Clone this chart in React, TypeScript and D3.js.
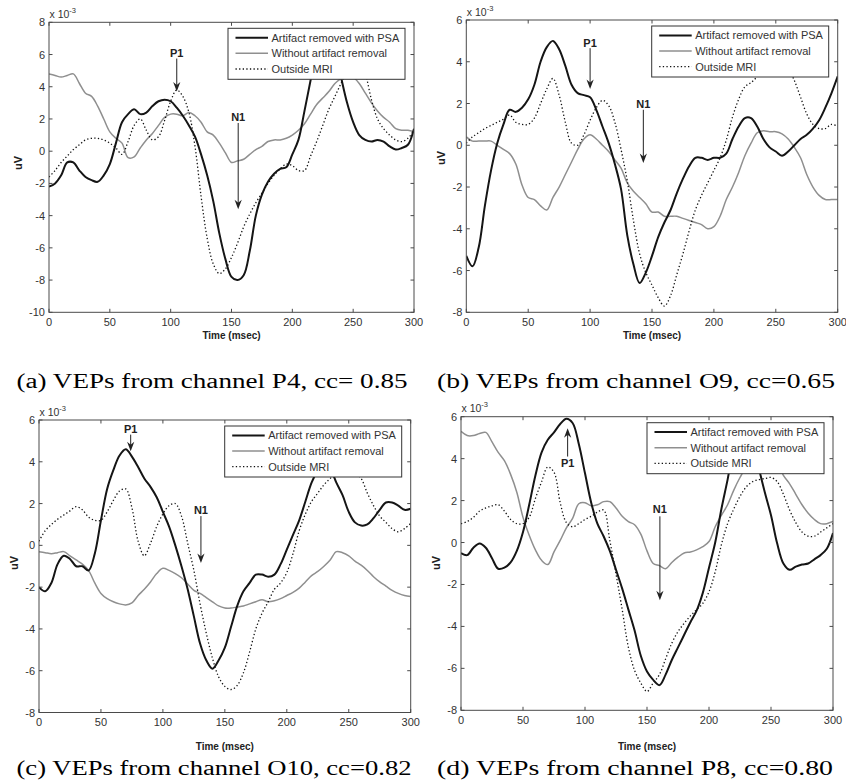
import React from "react";
import * as d3 from "d3";

// sample times (msec)
const timeMs = [
  0, 5, 10, 15, 20, 25, 30, 35, 40, 45, 50, 55, 60, 65, 70, 75, 80, 85, 90, 95,
  100, 105, 110, 115, 120, 125, 130, 135, 140, 145, 150, 155, 160, 165, 170, 175,
  180, 185, 190, 195, 200, 205, 210, 215, 220, 225, 230, 235, 240, 245, 250, 255,
  260, 265, 270, 275, 280, 285, 290, 295, 300,
];

// values in units of 1e-3 uV
const psaP4 = [
  -2.2, -2.0, -1.5, -0.7, -0.7, -1.2, -1.6, -1.8, -1.9, -1.5,
  -0.8, 0.5, 1.8, 2.3, 2.6, 2.3, 2.4, 2.8, 3.1, 3.2,
  3.1, 2.7, 2.2, 1.6, 0.9, -0.2, -1.5, -3.1, -5.1, -6.7,
  -7.8, -8.0, -7.7, -6.2, -4.0, -2.7, -1.9, -1.4, -1.1, -1.0,
  -0.2, 0.7, 2.5, 4.4, 6.2, 7.1, 7.3, 6.3, 4.6, 3.0,
  1.8, 1.0, 0.7, 0.6, 0.7, 0.6, 0.3, 0.1, 0.2, 0.4,
  1.4,
];
const rawP4 = [
  4.8, 4.7, 4.6, 4.7, 4.8, 4.2, 3.6, 3.4, 2.8, 2.0,
  1.2, 0.8, 0.5, -0.4, -0.35, 0.2, 0.7, 1.1, 1.6, 2.1,
  2.3, 2.3, 2.2, 2.4, 2.2, 1.8, 1.2, 1.0, 0.5, -0.1,
  -0.7, -0.6, -0.5, -0.2, 0.1, 0.3, 0.6, 0.7, 0.7, 0.8,
  1.0, 1.3, 1.7, 2.3, 2.9, 3.3, 3.7, 4.2, 4.5, 4.7,
  4.6, 4.2, 3.6, 3.0, 2.5, 2.1, 1.8, 1.4, 1.3, 1.3,
  1.2,
];
const outP4 = [
  -1.6, -1.2, -0.7, -0.3, 0.1, 0.4, 0.7, 0.8, 0.8, 0.7,
  0.5, 0.2, -0.2, 0.6, 1.6, 2.0, 1.3, 0.7, 0.9, 1.9,
  3.1, 3.8, 3.4, 2.4, 0.3, -2.8, -5.4, -7.0, -7.6, -7.3,
  -6.6, -5.7, -4.7, -3.9, -3.2, -2.6, -2.0, -1.5, -1.1, -0.8,
  -0.9, -1.2, -1.2, -0.3, 0.6, 1.6, 2.6, 3.4, 4.2, 5.0,
  5.6, 5.6, 4.8, 3.2, 2.0, 1.4, 1.0, 0.7, 0.6, 0.8,
  1.3,
];

const psaO9 = [
  -5.3, -5.8, -4.9, -2.9, -1.2, 0.1, 1.0, 1.7, 1.6, 1.8,
  2.2, 2.9, 4.0, 4.7, 5.0, 4.6, 3.8, 2.9, 2.5, 2.4,
  2.3, 1.7, 0.9, 0.1, -0.9, -2.1, -4.3, -5.7, -6.6, -6.1,
  -5.3, -4.4, -3.7, -3.1, -2.3, -1.6, -1.0, -0.6, -0.6, -0.7,
  -0.6, -0.6, -0.4, 0.3, 0.9, 1.3, 1.3, 0.9, 0.3, -0.1,
  -0.3, -0.5, -0.3, 0.0, 0.3, 0.5, 0.8, 1.2, 1.8, 2.5,
  3.3,
];
const rawO9 = [
  0.4, 0.2, 0.2, 0.2, 0.2, 0.0, -0.2, -0.4, -0.9, -1.9,
  -2.5, -2.6, -2.9, -3.1, -2.5, -2.0, -1.4, -0.8, -0.2, 0.3,
  0.5, 0.3, 0.0, -0.3, -0.7, -1.1, -1.8, -2.2, -2.5, -2.8,
  -3.2, -3.2, -3.4, -3.4, -3.4, -3.5, -3.6, -3.7, -3.8, -4.0,
  -3.9, -3.4, -2.6, -2.0, -1.3, -0.5, 0.1, 0.6, 0.7, 0.65,
  0.65, 0.55, 0.3, -0.1, -0.6, -1.4, -2.0, -2.4, -2.6, -2.6,
  -2.6,
];
const outO9 = [
  0.1, 0.4, 0.6, 0.8, 0.95, 1.1, 1.25, 1.45, 1.1, 1.0,
  1.0, 1.3, 2.0, 2.7, 3.2, 2.4, 1.1, 0.1, 0.0, 0.5,
  1.2, 1.8, 2.15, 1.9, 1.1, -0.2, -1.7, -3.6, -5.2, -6.1,
  -6.7, -7.3, -7.7, -7.2, -6.2, -5.2, -4.1, -3.1, -2.4, -1.8,
  -1.2, -0.6, 0.25, 1.35, 2.2, 2.8, 3.0, 3.3, 3.8, 4.2,
  4.3, 4.1, 3.7, 3.1, 2.3, 1.5, 1.0, 0.8, 0.8, 1.0,
  0.9,
];

const psaO10 = [
  -2.0, -2.2, -1.8, -0.9, -0.5, -0.65, -1.0, -1.0, -1.2, -0.4,
  1.2, 2.7, 3.6, 4.3, 4.6, 4.25, 3.75, 3.2, 2.8, 2.3,
  1.6, 0.9, 0.0, -1.0, -2.1, -3.4, -4.7, -5.5, -5.9, -5.5,
  -4.9, -3.9, -2.9, -2.2, -1.8, -1.4, -1.4, -1.5, -1.4, -0.9,
  -0.2, 0.5, 1.2, 2.1, 3.0, 3.6, 4.0, 3.7, 3.0, 2.4,
  1.6, 1.1, 0.95, 1.0, 1.3, 1.7, 2.05, 2.05, 1.9, 1.7,
  1.75,
];
const rawO10 = [
  -0.3, -0.35, -0.4, -0.35, -0.3, -0.5, -0.7, -0.9, -1.2, -1.8,
  -2.3, -2.55, -2.7, -2.8, -2.85, -2.75, -2.4, -2.1, -1.75, -1.35,
  -1.1, -1.2, -1.35, -1.55, -1.85, -2.15, -2.3, -2.5, -2.7, -2.9,
  -3.0, -3.0, -2.95, -2.9, -2.8, -2.7, -2.6, -2.7, -2.65, -2.55,
  -2.4, -2.25, -2.05, -1.75, -1.45, -1.25, -1.0, -0.7, -0.3, -0.35,
  -0.5, -0.75, -0.95, -1.2, -1.5, -1.75, -1.95, -2.15, -2.3, -2.4,
  -2.45,
];
const outO10 = [
  0.2, 0.7, 1.0, 1.25, 1.45, 1.65, 1.85, 1.7, 1.35, 1.2,
  1.2, 1.6, 2.15, 2.6, 2.7, 1.8, 0.2, -0.5, 0.1, 0.9,
  1.5, 1.9, 2.0, 1.4, 0.1, -1.2, -2.8, -4.2, -5.4, -6.3,
  -6.75, -6.9, -6.7, -6.1, -5.1, -4.0, -3.25, -2.7, -2.1, -1.8,
  -1.3, -0.4, 0.7, 1.5, 2.1, 2.5, 2.9, 3.2, 3.5, 3.7,
  3.7, 3.5, 3.2, 2.5, 1.9, 1.4, 1.1, 0.8, 0.65, 0.8,
  1.05,
];

const psaP8 = [
  -0.5, -0.6, -0.25, -0.05, -0.25, -0.75, -1.25, -1.2, -0.95, -0.4,
  0.5, 1.8, 3.2, 4.3, 4.9, 5.25, 5.65, 5.9, 5.7, 4.7,
  3.3, 1.9, 0.9, 0.3, -0.4, -1.3, -2.2, -3.2, -4.2, -5.4,
  -6.15, -6.55, -6.8, -6.3, -5.6, -5.0, -4.4, -3.8, -3.25, -2.4,
  -1.2, 0.0, 1.6, 3.0, 4.5, 5.2, 5.4, 5.0, 3.6, 2.4,
  1.3, -0.05, -1.0, -1.3, -1.15, -1.05, -1.0, -0.8, -0.6, -0.3,
  0.45,
];
const rawP8 = [
  5.3, 5.1, 5.1, 5.2, 5.25, 4.8, 4.3, 3.9, 3.25, 2.4,
  1.2, 0.35, -0.35, -0.85, -1.05, -0.45, 0.1, 0.7, 1.15, 1.85,
  1.9, 1.75, 1.8, 1.95, 1.95, 1.65, 1.25, 1.0, 0.85, 0.4,
  -0.4, -1.0, -1.1, -1.25, -0.95, -0.7, -0.5, -0.45, -0.35, -0.2,
  0.05, 0.75, 1.3, 1.8, 2.5, 3.1, 3.6, 3.9, 4.1, 4.2,
  4.1, 3.8, 3.2, 2.8, 2.3, 1.8, 1.4, 1.1, 0.9, 0.9,
  1.0,
];
const outP8 = [
  0.9, 1.0, 1.2, 1.5, 1.65, 1.75, 1.8, 1.5, 1.1, 0.9,
  0.9, 1.2, 2.1, 2.9, 3.6, 3.35, 1.9, 0.95, 0.75, 0.9,
  1.1, 1.25, 1.45, 1.55, 0.1, -1.5, -3.2, -5.0, -6.1, -6.7,
  -7.1, -6.7, -6.3, -5.55, -4.8, -4.25, -3.85, -3.5, -3.2, -2.9,
  -2.35, -1.4, -0.1, 0.9, 1.6, 2.2, 2.65, 2.9, 3.0, 3.05,
  3.1, 2.9, 2.3, 1.55, 0.95, 0.5, 0.3, 0.3, 0.5, 0.7,
  0.9,
];

const xTicks = [0, 50, 100, 150, 200, 250, 300];
const yTicksP4 = [-10, -8, -6, -4, -2, 0, 2, 4, 6, 8];
const yTicksOther = [-8, -6, -4, -2, 0, 2, 4, 6];
const legendLabels = ["Artifact removed with PSA", "Without artifact removal", "Outside MRI"];
const captions = [
  "(a) VEPs from channel P4, cc= 0.85",
  "(b) VEPs from channel O9, cc=0.65",
  "(c) VEPs from channel O10, cc=0.82",
  "(d) VEPs from channel P8, cc=0.80",
];

// [time, label y, arrow start y, arrow end y] for each marker
const p1Marks = [
  [105, 6.1, 5.75, 3.7],
  [100, 4.9, 4.65, 2.7],
  [74, 5.55, 5.3, 4.5],
  [86, 3.8, 4.1, 5.45],
];
const n1Marks = [
  [155.5, 2.1, 1.75, -3.6],
  [143, 2.0, 1.7, -0.85],
  [130.7, 1.7, 1.4, -0.85],
  [160.4, 1.6, 1.25, -2.75],
];

const panels = [
  { l: 49, t: 22.3, r: 414, b: 312.3, yDom: [-10, 8], yTicks: yTicksP4, psa: psaP4, raw: rawP4, out: outP4,
    timeY: 335, uvX: 18, uvY: 163, capX: 212, capY: 388, capW: 391 },
  { l: 466.3, t: 20, r: 837.7, b: 312.3, yDom: [-8, 6], yTicks: yTicksOther, psa: psaO9, raw: rawO9, out: outO9,
    timeY: 335, uvX: 441, uvY: 158, capX: 636, capY: 388, capW: 398 },
  { l: 39, t: 420, r: 410.7, b: 712.5, yDom: [-8, 6], yTicks: yTicksOther, psa: psaO10, raw: rawO10, out: outO10,
    timeY: 746, uvX: 13.5, uvY: 563, capX: 214, capY: 775, capW: 395 },
  { l: 461, t: 416.7, r: 833, b: 710.3, yDom: [-8, 6], yTicks: yTicksOther, psa: psaP8, raw: rawP8, out: outP8,
    timeY: 746, uvX: 436, uvY: 563, capX: 635, capY: 775, capW: 396 },
];

const AXIS = "#4a4a4a";
const TXT = "#333";
const FONT = "'Liberation Sans', Arial, sans-serif";

function Arrow({ x, y0, y1 }: { x: number; y0: number; y1: number }) {
  const dir = y1 > y0 ? 1 : -1;
  return (
    <g>
      <line x1={x} y1={y0} x2={x} y2={y1 - dir * 6} stroke="#222" strokeWidth={1} />
      <path
        d={`M${x},${y1} L${x - 3.6},${y1 - dir * 9.5} L${x},${y1 - dir * 6.5} L${x + 3.6},${y1 - dir * 9.5} Z`}
        fill="#222"
      />
    </g>
  );
}

function VepPanel({ p, idx }: { p: any; idx: number }) {
  const x = d3.scaleLinear().domain([0, 300]).range([p.l, p.r]);
  const y = d3.scaleLinear().domain(p.yDom).range([p.b, p.t]);
  const line = d3
    .line<number>()
    .x((_, i) => x(timeMs[i]))
    .y((d) => y(d))
    .curve(d3.curveCatmullRom.alpha(0.5));
  const clipId = `clip-${idx}`;
  const tl = 3.5;

  const legW = 177;
  const legH = 51;
  const legX = p.r - 9 - legW;
  const legY = p.t + 6;
  const rows = [9.4, 25, 40.7];

  const p1 = p1Marks[idx];
  const n1 = n1Marks[idx];

  return (
    <g>
      <defs>
        <clipPath id={clipId}>
          <rect x={p.l} y={p.t} width={p.r - p.l} height={p.b - p.t} />
        </clipPath>
      </defs>
      <rect x={p.l} y={p.t} width={p.r - p.l} height={p.b - p.t} fill="#fff" />

      <g clipPath={`url(#${clipId})`} fill="none">
        <path d={line(p.raw) || ""} stroke="#8f8f8f" strokeWidth={1.5} />
        <path d={line(p.out) || ""} stroke="#111" strokeWidth={1.3} strokeDasharray="1.3 2.3" />
        <path d={line(p.psa) || ""} stroke="#151515" strokeWidth={2} />
      </g>

      {/* P1 / N1 markers */}
      <text x={x(p1[0])} y={y(p1[1]) + 4} textAnchor="middle" fontFamily={FONT} fontWeight="bold" fontSize={11} fill="#222">
        P1
      </text>
      <Arrow x={x(p1[0])} y0={y(p1[2])} y1={y(p1[3])} />
      <text x={x(n1[0])} y={y(n1[1]) + 4} textAnchor="middle" fontFamily={FONT} fontWeight="bold" fontSize={11} fill="#222">
        N1
      </text>
      <Arrow x={x(n1[0])} y0={y(n1[2])} y1={y(n1[3])} />

      {/* frame + ticks */}
      <rect x={p.l} y={p.t} width={p.r - p.l} height={p.b - p.t} fill="none" stroke={AXIS} strokeWidth={1} />
      {xTicks.map((v) => (
        <g key={`x${v}`}>
          <line x1={x(v)} x2={x(v)} y1={p.b} y2={p.b - tl} stroke={AXIS} />
          <line x1={x(v)} x2={x(v)} y1={p.t} y2={p.t + tl} stroke={AXIS} />
          <text x={x(v)} y={p.b + 13.5} textAnchor="middle" fontFamily={FONT} fontSize={11} fill={TXT}>
            {v}
          </text>
        </g>
      ))}
      {p.yTicks.map((v: number) => (
        <g key={`y${v}`}>
          <line x1={p.l} x2={p.l + tl} y1={y(v)} y2={y(v)} stroke={AXIS} />
          <line x1={p.r} x2={p.r - tl} y1={y(v)} y2={y(v)} stroke={AXIS} />
          <text x={p.l - 4} y={y(v) + 4} textAnchor="end" fontFamily={FONT} fontSize={11} fill={TXT}>
            {v}
          </text>
        </g>
      ))}

      {/* exponent */}
      <text x={p.l + 0.5} y={p.t - 4.5} fontFamily={FONT} fontSize={10.5} fill={TXT}>
        x 10
        <tspan fontSize={7.5} dy={-5}>-3</tspan>
      </text>

      {/* legend */}
      <rect x={legX} y={legY} width={legW} height={legH} fill="#fff" stroke="#333" strokeWidth={1} />
      <line x1={legX + 7.5} x2={legX + 40} y1={legY + rows[0]} y2={legY + rows[0]} stroke="#151515" strokeWidth={2} />
      <line x1={legX + 7.5} x2={legX + 40} y1={legY + rows[1]} y2={legY + rows[1]} stroke="#8f8f8f" strokeWidth={1.5} />
      <line x1={legX + 7.5} x2={legX + 40} y1={legY + rows[2]} y2={legY + rows[2]} stroke="#111" strokeWidth={1.3} strokeDasharray="1.3 2.3" />
      {legendLabels.map((s, i) => (
        <text key={s} x={legX + 43.5} y={legY + rows[i] + 4} fontFamily={FONT} fontSize={11} fill={TXT}>
          {s}
        </text>
      ))}

      {/* axis labels */}
      <text x={(p.l + p.r) / 2} y={p.timeY + 3.5} textAnchor="middle" fontFamily={FONT} fontWeight="bold" fontSize={10} fill="#222">
        Time (msec)
      </text>
      <text
        transform={`translate(${p.uvX},${p.uvY}) rotate(-90)`}
        textAnchor="middle"
        dy={4}
        fontFamily={FONT}
        fontWeight="bold"
        fontSize={11}
        fill="#222"
      >
        uV
      </text>

      {/* caption */}
      <text
        x={p.capX}
        y={p.capY}
        textAnchor="middle"
        fontFamily="'Liberation Serif', 'Times New Roman', serif"
        fontSize={20}
        textLength={p.capW}
        lengthAdjust="spacingAndGlyphs"
        fill="#000"
      >
        {captions[idx]}
      </text>
    </g>
  );
}

export default function App() {
  return (
    <svg
      width={846}
      height={781}
      style={{ position: "absolute", left: 0, top: 0, background: "#fff", display: "block" }}
    >
      <rect width={846} height={781} fill="#fff" />
      {panels.map((p, i) => (
        <VepPanel key={i} p={p} idx={i} />
      ))}
    </svg>
  );
}
